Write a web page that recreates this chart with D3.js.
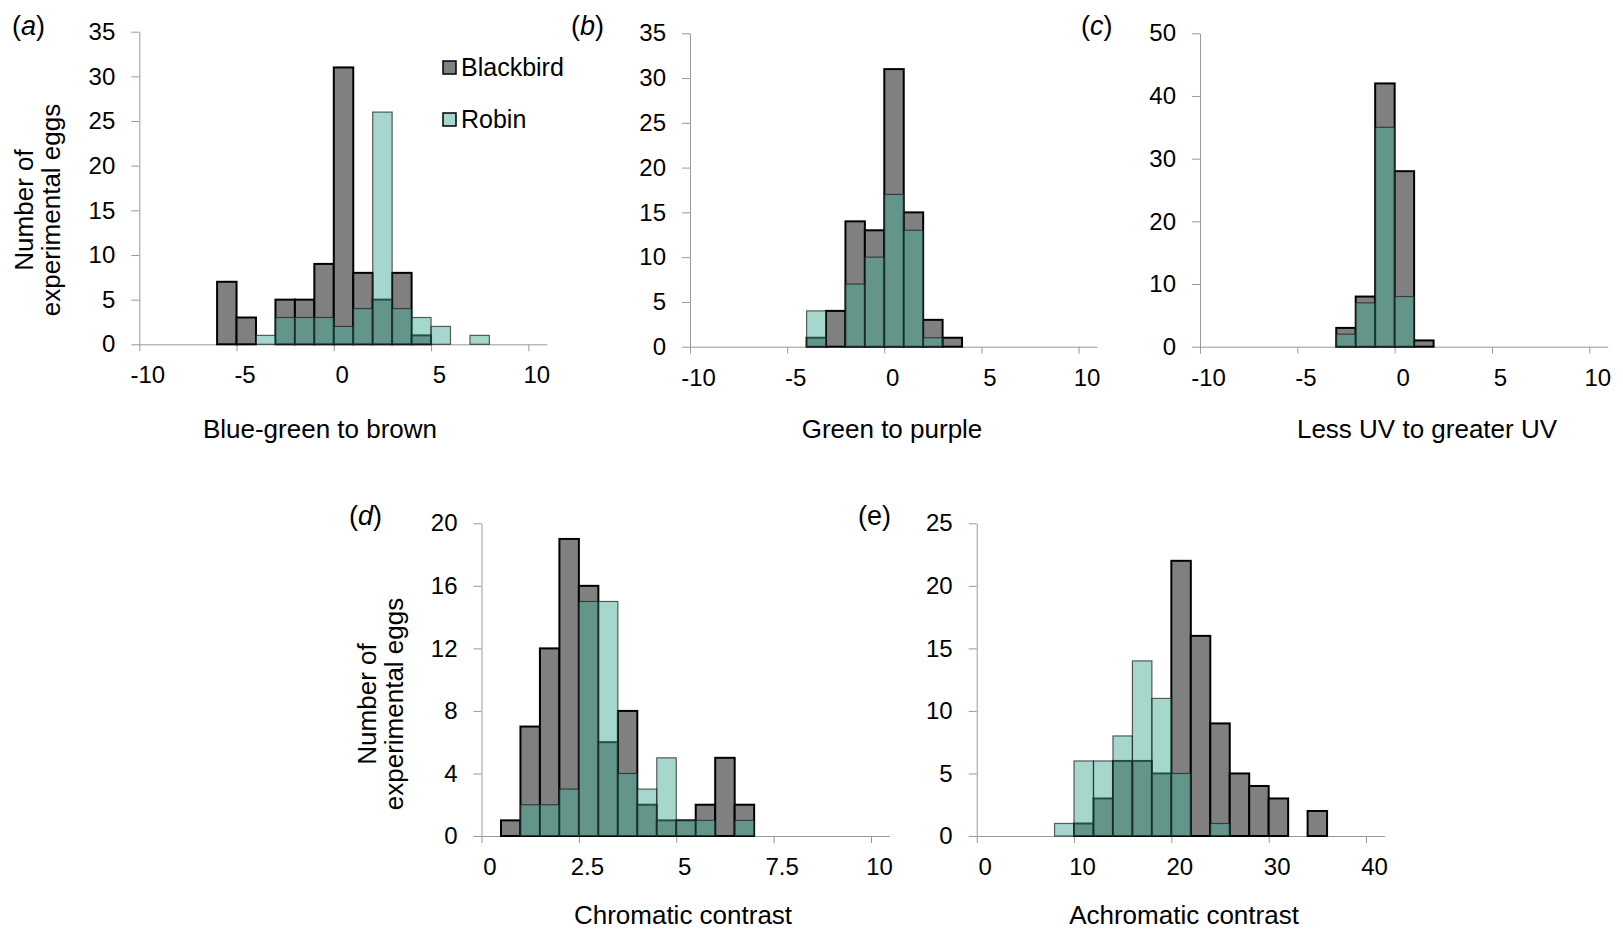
<!DOCTYPE html>
<html>
<head>
<meta charset="utf-8">
<script src="https://cdn.jsdelivr.net/npm/d3@7/dist/d3.min.js"></script>
<style>
  body { margin: 0; background: #fff; }
  svg text { font-family: "Liberation Sans", Arial, sans-serif; fill: #000; }
</style>
</head>
<body>
<svg id="fig" width="1623" height="932"></svg>
<script>
// --- data: left bin edges + counts per species ---
const binsA = [-6, -5, -4, -3, -2, -1, 0, 1, 2, 3, 4, 5, 6, 7];
const blackbirdA = [7, 3, 0, 5, 5, 9, 31, 8, 5, 8, 1, 0, 0, 0];
const robinA = [0, 0, 1, 3, 3, 3, 2, 4, 26, 4, 3, 2, 0, 1];

const binsB = [-4, -3, -2, -1, 0, 1, 2, 3];
const blackbirdB = [1, 4, 14, 13, 31, 15, 3, 1];
const robinB = [4, 0, 7, 10, 17, 13, 1, 0];

const binsC = [-3, -2, -1, 0, 1];
const blackbirdC = [3, 8, 42, 28, 1];
const robinC = [2, 7, 35, 8, 0];

const binsD = [0.5, 1, 1.5, 2, 2.5, 3, 3.5, 4, 4.5, 5, 5.5, 6, 6.5];
const blackbirdD = [1, 7, 12, 19, 16, 6, 8, 2, 1, 1, 2, 5, 2];
const robinD = [0, 2, 2, 3, 15, 15, 4, 3, 5, 1, 1, 0, 1];

const binsE = [8, 10, 12, 14, 16, 18, 20, 22, 24, 26, 28, 30, 32, 34];
const blackbirdE = [0, 1, 3, 6, 6, 5, 22, 16, 9, 5, 4, 3, 0, 2];
const robinE = [1, 6, 6, 8, 14, 11, 5, 0, 1, 0, 0, 0, 0, 0];

const xTicksPM = [-10, -5, 0, 5, 10];
const xTicksD = [0, 2.5, 5, 7.5, 10];
const xTicksE = [0, 10, 20, 30, 40];
const yTicks35 = [0, 5, 10, 15, 20, 25, 30, 35];
const yTicks50 = [0, 10, 20, 30, 40, 50];
const yTicks20 = [0, 4, 8, 12, 16, 20];
const yTicks25 = [0, 5, 10, 15, 20, 25];

const species = ["Blackbird", "Robin"];
const yTitleLines = ["Number of", "experimental eggs"];

// --- layout ---
const svg = d3.select("#fig");
const axisCol = "#9a9a9a";
const bbFill = "#808080";
const robinFill = "#44ab96";

const panels = [
  {tag: "a", italic: true, bins: binsA, w: 1, bb: blackbirdA, rb: robinA, xDom: [-10, 10], xTicks: xTicksPM, yMax: 35, yTicks: yTicks35,
   title: "Blue-green to brown", x0: 139.3, x1: 528.3, y0: 344.3, y1: 31.7, tagX: 12, tagY: 35, titleX: 320, titleY: 438, yTitle: 210, legend: true},
  {tag: "b", italic: true, bins: binsB, w: 1, bb: blackbirdB, rb: robinB, xDom: [-10, 10], xTicks: xTicksPM, yMax: 35, yTicks: yTicks35,
   title: "Green to purple", x0: 690, x1: 1078.6, y0: 346.7, y1: 33.3, tagX: 571, tagY: 35, titleX: 892, titleY: 438},
  {tag: "c", italic: true, bins: binsC, w: 1, bb: blackbirdC, rb: robinC, xDom: [-10, 10], xTicks: xTicksPM, yMax: 50, yTicks: yTicks50,
   title: "Less UV to greater UV", x0: 1200, x1: 1589.3, y0: 346.7, y1: 33.3, tagX: 1081, tagY: 35, titleX: 1427, titleY: 438},
  {tag: "d", italic: true, bins: binsD, w: 0.5, bb: blackbirdD, rb: robinD, xDom: [0, 10], xTicks: xTicksD, yMax: 20, yTicks: yTicks20,
   title: "Chromatic contrast", x0: 481.5, x1: 871, y0: 836, y1: 523.3, tagX: 349, tagY: 525, titleX: 683, titleY: 924, yTitle: 704},
  {tag: "e", italic: false, bins: binsE, w: 2, bb: blackbirdE, rb: robinE, xDom: [0, 40], xTicks: xTicksE, yMax: 25, yTicks: yTicks25,
   title: "Achromatic contrast", x0: 976.7, x1: 1366, y0: 836, y1: 523.3, tagX: 858, tagY: 525, titleX: 1184, titleY: 924}
];

panels.forEach(p => {
  const g = svg.append("g");
  const x = d3.scaleLinear().domain(p.xDom).range([p.x0, p.x1]);
  const y = d3.scaleLinear().domain([0, p.yMax]).range([p.y0, p.y1]);

  // axes
  const yAx = g.append("g").attr("transform", `translate(${p.x0},0)`)
    .call(d3.axisLeft(y).tickValues(p.yTicks).tickFormat(d => String(d)).tickSize(8).tickSizeOuter(0).tickPadding(16));
  yAx.selectAll("path, line").attr("stroke", axisCol);
  yAx.selectAll("text").attr("font-size", 24).attr("fill", "#000");

  const xAx = g.append("g").attr("transform", `translate(0,${p.y0})`)
    .call(d3.axisBottom(x).tickValues(p.xTicks).tickFormat(d => String(d)).tickSize(7).tickSizeOuter(0).tickPadding(15));
  xAx.select(".domain").remove();
  xAx.selectAll("line").attr("stroke", axisCol);
  xAx.selectAll("text").attr("font-size", 24).attr("fill", "#000").attr("dx", 8);
  g.append("line")
    .attr("x1", p.x0).attr("x2", p.x1 + 19)
    .attr("y1", p.y0 + 0.5).attr("y2", p.y0 + 0.5)
    .attr("stroke", axisCol);

  // blackbird bars
  const bbData = p.bins.map((b, i) => ({b, v: p.bb[i]})).filter(d => d.v > 0);
  g.selectAll(".bb").data(bbData).join("rect").attr("class", "bb")
    .attr("x", d => x(d.b)).attr("width", d => x(d.b + p.w) - x(d.b))
    .attr("y", d => y(d.v)).attr("height", d => y(0) - y(d.v))
    .attr("fill", bbFill).attr("stroke", "#000").attr("stroke-width", 2);

  // robin bars, translucent on top
  const rbData = p.bins.map((b, i) => ({b, v: p.rb[i]})).filter(d => d.v > 0);
  g.selectAll(".rb").data(rbData).join("rect").attr("class", "rb")
    .attr("x", d => x(d.b)).attr("width", d => x(d.b + p.w) - x(d.b))
    .attr("y", d => y(d.v)).attr("height", d => y(0) - y(d.v))
    .attr("fill", robinFill).attr("fill-opacity", 0.48)
    .attr("stroke", "#1e1e1e").attr("stroke-opacity", 0.7).attr("stroke-width", 1.2);

  // panel tag
  const t = g.append("text").attr("x", p.tagX).attr("y", p.tagY).attr("font-size", 27);
  t.append("tspan").text("(");
  t.append("tspan").attr("font-style", p.italic ? "italic" : "normal").text(p.tag);
  t.append("tspan").text(")");

  // x title
  g.append("text").attr("x", p.titleX).attr("y", p.titleY)
    .attr("text-anchor", "middle").attr("font-size", 26).text(p.title);

  // y title
  if (p.yTitle) {
    const yt = g.append("text").attr("transform", `translate(${p.x0 - 106},${p.yTitle}) rotate(-90)`)
      .attr("text-anchor", "middle").attr("font-size", 26);
    yTitleLines.forEach((s, i) => yt.append("tspan").attr("x", 0).attr("y", i * 27).text(s));
  }

  // legend
  if (p.legend) {
    const lg = g.append("g").attr("transform", "translate(443,61)");
    species.forEach((s, i) => {
      const row = lg.append("g").attr("transform", `translate(0,${i * 52})`);
      row.append("rect").attr("width", 13).attr("height", 13)
        .attr("fill", i === 0 ? bbFill : robinFill).attr("fill-opacity", i === 0 ? 1 : 0.48)
        .attr("stroke", "#000").attr("stroke-width", 1.5);
      row.append("text").attr("x", 18).attr("y", 15).attr("font-size", 25).text(s);
    });
  }
});
</script>
</body>
</html>
